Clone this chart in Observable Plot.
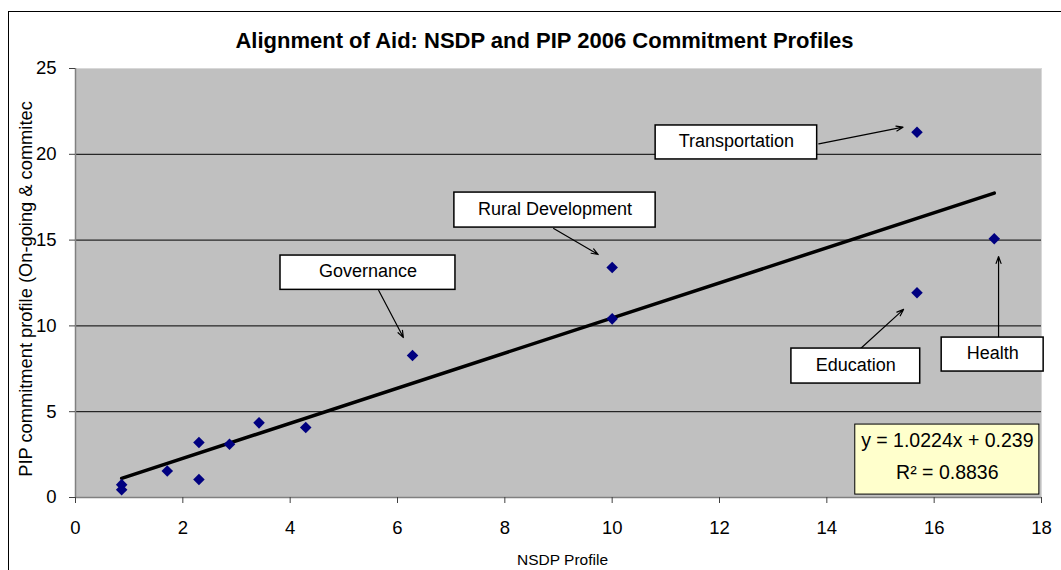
<!DOCTYPE html>
<html>
<head>
<meta charset="utf-8">
<script src="https://cdn.jsdelivr.net/npm/d3@7"></script>
<script src="https://cdn.jsdelivr.net/npm/@observablehq/plot@0.6"></script>
<style>
  html, body { margin: 0; padding: 0; background: #fff; }
  #wrap { position: relative; width: 1061px; height: 570px; overflow: hidden; }
  #border { position: absolute; left: 8px; top: 11px; width: 1100px; height: 620px; border: 1px solid #000; pointer-events: none; }
  #chart svg { display: block; }
</style>
</head>
<body>
<div id="wrap"><div id="chart"></div><div id="border"></div></div>
<script>
// ---- Data ----
const title = "Alignment of Aid: NSDP and PIP 2006 Commitment Profiles";
const xLabel = "NSDP Profile";
const yLabel = "PIP commitment profile (On-going & commitec";
const xTicks = [0, 2, 4, 6, 8, 10, 12, 14, 16, 18];
const yTicks = [0, 5, 10, 15, 20, 25];
const gridY = [5, 10, 15, 20];

// NSDP profile (x) and PIP commitment profile (y), one entry per sector
const nsdp = [0.86, 0.86, 1.71, 2.30, 2.30, 2.87, 3.42, 4.29, 6.28, 10.0, 10.0, 15.68, 15.68, 17.12];
const pip  = [0.75, 0.45, 1.55, 3.20, 1.05, 3.10, 4.35, 4.08, 8.27, 13.40, 10.41, 21.29, 11.93, 15.08];

// Linear trend line as printed on the chart
const slope = 1.0224;
const intercept = 0.239;
const r2 = 0.8836;
const equationLines = [`y = ${slope}x + ${intercept}`, `R\u00B2 = ${r2}`];

// Callout labels: box (data units) and arrow (data units)
const annotations = [
  {label: "Governance",        bx1: 3.82,  bx2: 7.08,  by1: 14.10, by2: 12.10, ax1: 5.65,  ay1: 12.06, ax2: 6.11,  ay2: 9.32},
  {label: "Rural Development", bx1: 7.06,  bx2: 10.81, by1: 17.77, by2: 15.73, ax1: 8.91,  ay1: 15.68, ax2: 9.74,  ay2: 14.16},
  {label: "Transportation",    bx1: 10.81, bx2: 13.82, by1: 21.68, by2: 19.70, ax1: 13.85, ay1: 20.61, ax2: 15.42, ay2: 21.58},
  {label: "Education",         bx1: 13.34, bx2: 15.74, by1: 8.68,  by2: 6.64,  ax1: 14.63, ay1: 8.68,  ax2: 15.43, ay2: 10.96},
  {label: "Health",            bx1: 16.14, bx2: 18.04, by1: 9.32,  by2: 7.34,  ax1: 17.20, ay1: 9.32,  ax2: 17.20, ay2: 14.04}
];
const equationBox = {x1: 14.53, x2: 17.96, y1: 4.25, y2: 0.17};

// ---- Build ----
const points = nsdp.map((x, i) => ({x, y: pip[i]}));
const [xMin, xMax] = d3.extent(nsdp);
const trend = [xMin, xMax].map(x => ({x, y: slope * x + intercept}));
const eqMidX = (equationBox.x1 + equationBox.x2) / 2;
const eqLines = equationLines.map((t, i) => ({t, i}));

const FONT = "'Liberation Sans', Arial, sans-serif";

const chart = Plot.plot({
  width: 1061,
  height: 570,
  marginLeft: 75,
  marginRight: 20,
  marginTop: 68,
  marginBottom: 73,
  style: {fontFamily: FONT, fontSize: "18px", background: "transparent", color: "#000", overflow: "visible"},
  x: {domain: [0, 18], ticks: xTicks, label: null},
  y: {domain: [0, 25], ticks: yTicks, label: null},
  marks: [
    Plot.frame({fill: "#C0C0C0", stroke: "#d8d8d8"}),
    Plot.ruleY(gridY, {stroke: "#000", strokeWidth: 1}),
    Plot.ruleX([0], {stroke: "#808080", strokeWidth: 1.5}),
    Plot.ruleY([0], {stroke: "#808080", strokeWidth: 1.5}),
    Plot.axisX({ticks: xTicks, tickSize: 6, tickPadding: 17, stroke: "#404040", label: null, fontSize: 18.5}),
    Plot.axisY({ticks: yTicks, tickSize: 6, tickPadding: 13, stroke: "#404040", label: null, fontSize: 18.5}),
    Plot.line(trend, {x: "x", y: "y", stroke: "#000", strokeWidth: 3.5}),
    Plot.dot(points, {x: "x", y: "y", symbol: "diamond2", r: 5.2, fill: "#000080", stroke: "none"}),
    Plot.arrow(annotations, {x1: "ax1", y1: "ay1", x2: "ax2", y2: "ay2", stroke: "#000", strokeWidth: 1.2, headLength: 9, headAngle: 40, insetEnd: 0, insetStart: 0}),
    Plot.rect(annotations, {x1: "bx1", x2: "bx2", y1: "by1", y2: "by2", fill: "#fff", stroke: "#000", strokeWidth: 1.5}),
    Plot.text(annotations, {x: d => (d.bx1 + d.bx2) / 2, y: d => (d.by1 + d.by2) / 2, text: "label", fontSize: 18, fill: "#000", dy: -1}),
    Plot.rect([equationBox], {x1: "x1", x2: "x2", y1: "y1", y2: "y2", fill: "#FFFFCC", stroke: "#000", strokeWidth: 1}),
    Plot.text(eqLines, {x: () => eqMidX, y: d => equationBox.y1 - (equationBox.y1 - equationBox.y2) * (d.i === 0 ? 0.23 : 0.69), text: "t", fontSize: 19.5, fill: "#000"}),
    Plot.text([title], {frameAnchor: "top", dx: -14, dy: -36, fontSize: 22, fontWeight: "bold", fill: "#000"}),
    Plot.text([xLabel], {frameAnchor: "bottom", dx: 4, dy: 67, fontSize: 15.5, fill: "#000"}),
    Plot.text([yLabel], {frameAnchor: "left", textAnchor: "middle", dx: -49, dy: 6, rotate: -90, fontSize: 18.3, fill: "#000"})
  ]
});
document.getElementById("chart").appendChild(chart);
</script>
</body>
</html>
